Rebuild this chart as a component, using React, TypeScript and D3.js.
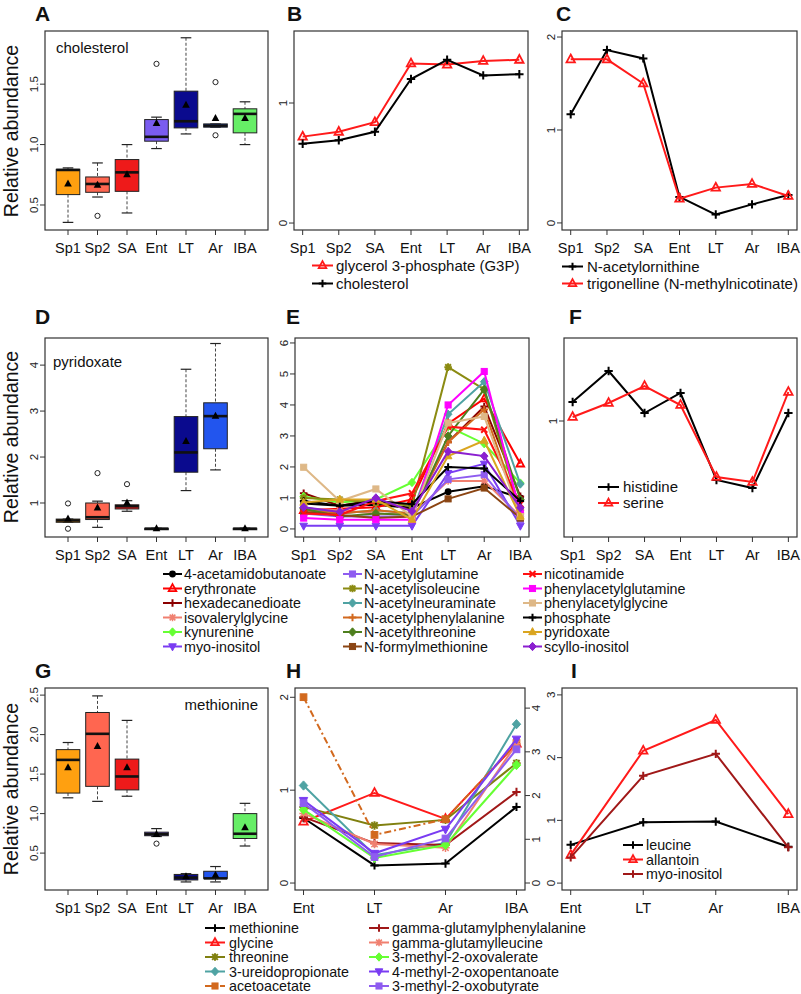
import React from "react";
import * as d3 from "d3";

const FONT = "'Liberation Sans', Arial, Helvetica, sans-serif";
const AX = "#333";

// ---------- categories ----------
const stages = ["Sp1", "Sp2", "SA", "Ent", "LT", "Ar", "IBA"];
const lateStages = ["Ent", "LT", "Ar", "IBA"];
const stageColors = ["#FFA010", "#FF6650", "#EE1A1A", "#7A5CF0", "#0A0A8E", "#2255EE", "#66EE66"];

// ---------- A: cholesterol box stats [low, q1, median, q3, high] ----------
const cholesterolBox = [
  [0.356, 0.586, 0.79, 0.795, 0.807],
  [0.566, 0.605, 0.674, 0.732, 0.848],
  [0.434, 0.613, 0.77, 0.876, 1.0],
  [0.967, 1.028, 1.064, 1.207, 1.227],
  [1.088, 1.138, 1.193, 1.442, 1.884],
  [1.144, 1.144, 1.157, 1.171, 1.171],
  [1.0, 1.097, 1.254, 1.296, 1.354],
];
const cholesterolMean = [0.674, 0.663, 0.75, 1.174, 1.326, 1.215, 1.215];
const cholesterolOutliers = [[2, 0.41], [4, 1.668], [6, 1.517], [6, 1.077]];

// ---------- D: pyridoxate ----------
const pyridoxateBox = [
  [0.58, 0.58, 0.62, 0.65, 0.65],
  [0.47, 0.64, 0.69, 1.0, 1.04],
  [0.82, 0.87, 0.93, 0.96, 1.05],
  [0.43, 0.43, 0.44, 0.45, 0.45],
  [1.27, 1.67, 2.1, 2.88, 3.91],
  [1.72, 2.18, 2.89, 3.18, 4.47],
  [0.43, 0.43, 0.44, 0.45, 0.45],
];
const pyridoxateMean = [0.65, 0.89, 1.0, 0.44, 2.34, 2.89, 0.44];
const pyridoxateOutliers = [[1, 0.99], [1, 0.44], [2, 1.65], [3, 1.41]];

// ---------- G: methionine ----------
const methionineBox = [
  [1.2, 1.26, 1.68, 1.81, 1.9],
  [1.155, 1.345, 2.01, 2.28, 2.49],
  [1.22, 1.3, 1.47, 1.69, 2.18],
  [0.71, 0.72, 0.74, 0.765, 0.81],
  [0.135, 0.16, 0.19, 0.23, 0.24],
  [0.135, 0.18, 0.18, 0.27, 0.33],
  [0.59, 0.685, 0.745, 1.0, 1.13],
];
const methionineMean = [1.58, 1.85, 1.58, 0.735, 0.2, 0.22, 0.82];
const methionineOutliers = [[4, 0.62]];

// ---------- B ----------
const g3pValues = [0.72, 0.76, 0.84, 1.33, 1.32, 1.35, 1.36];
const cholesterolLine = [0.66, 0.69, 0.76, 1.2, 1.36, 1.23, 1.24];

// ---------- C ----------
const acetylornithine = [1.17, 1.86, 1.77, 0.28, 0.09, 0.2, 0.3];
const trigonelline = [1.76, 1.76, 1.5, 0.26, 0.38, 0.42, 0.29];

// ---------- F ----------
const histidine = [1.095, 1.25, 1.04, 1.14, 0.705, 0.665, 1.04];
const serine = [1.02, 1.09, 1.175, 1.08, 0.72, 0.695, 1.145];

// ---------- E ----------
const eNames = [
  "4-acetamidobutanoate", "erythronate", "hexadecanedioate", "isovalerylglycine", "kynurenine", "myo-inositol",
  "N-acetylglutamine", "N-acetylisoleucine", "N-acetylneuraminate", "N-acetylphenylalanine", "N-acetylthreonine", "N-formylmethionine",
  "nicotinamide", "phenylacetylglutamine", "phenylacetylglycine", "phosphate", "pyridoxate", "scyllo-inositol",
];
const eColors = [
  "#000000", "#FF0000", "#8B0000", "#F08070", "#66FF33", "#7A3CF2",
  "#8E5CF0", "#8B8B12", "#4FA3A3", "#D2691E", "#4E7F1E", "#8B4513",
  "#FF1010", "#FF00FF", "#DEB887", "#000000", "#DAA520", "#8B1FD0",
];
const eShapes = [
  "circle", "tri", "plus", "asterisk", "diamond", "dtri",
  "square", "star", "diamond", "plus", "diamond", "square",
  "x", "square", "square", "plus", "ftri", "diamond",
];
const eValues = [
  [0.82, 0.75, 0.78, 0.68, 1.2, 1.38, 1.0],
  [0.6, 0.65, 0.7, 0.95, 3.4, 4.2, 2.1],
  [1.15, 0.75, 0.95, 0.6, 2.8, 3.95, 1.05],
  [0.65, 0.6, 0.5, 0.45, 1.55, 1.55, 0.4],
  [1.05, 0.85, 0.95, 1.5, 3.3, 2.75, 1.48],
  [0.1, 0.1, 0.1, 0.1, 1.8, 2.1, 0.1],
  [0.5, 0.4, 0.4, 0.4, 1.6, 1.75, 0.3],
  [1.0, 0.95, 0.85, 0.75, 5.22, 4.5, 0.6],
  [0.7, 0.5, 0.6, 0.5, 3.7, 4.75, 1.45],
  [0.6, 0.5, 0.6, 0.5, 2.8, 3.85, 0.5],
  [0.65, 0.4, 0.5, 0.45, 3.0, 4.5, 0.95],
  [0.55, 0.45, 0.35, 0.4, 0.97, 1.32, 0.35],
  [0.5, 0.45, 0.9, 1.15, 3.3, 3.2, 0.8],
  [0.35, 0.3, 0.3, 0.3, 4.0, 5.08, 0.5],
  [1.99, 0.9, 1.29, 0.4, 3.42, 3.63, 0.4],
  [0.9, 0.75, 0.9, 0.8, 2.0, 1.95, 0.9],
  [0.85, 0.95, 0.95, 0.3, 2.35, 2.85, 0.4],
  [0.7, 0.55, 1.0, 0.57, 2.5, 2.35, 0.68],
];

// ---------- H ----------
const hNames = [
  "methionine", "glycine", "threonine", "3-ureidopropionate", "acetoacetate",
  "gamma-glutamylphenylalanine", "gamma-glutamylleucine", "3-methyl-2-oxovalerate", "4-methyl-2-oxopentanoate", "3-methyl-2-oxobutyrate",
];
const hColors = ["#000000", "#FF1A1A", "#808010", "#4FA3A3", "#D2691E", "#A01818", "#F08070", "#66FF33", "#7A3CF2", "#8E5CF0"];
const hShapes = ["plus", "tri", "star", "diamond", "square", "plus", "asterisk", "diamond", "dtri", "square"];
const hValues = [
  [0.7, 0.19, 0.21, 0.82],
  [0.66, 0.97, 0.69, 1.5],
  [0.82, 0.62, 0.68, 1.29],
  [1.05, 0.3, 0.43, 1.71],
  [4.25, 1.1, 1.46, 3.2],
  [0.71, 0.43, 0.41, 0.98],
  [0.75, 0.42, 0.38, 1.5],
  [0.79, 0.27, 0.41, 1.27],
  [0.89, 0.32, 0.58, 1.55],
  [0.86, 0.28, 0.48, 1.44],
];
const hRightAxisSeries = [false, false, false, false, true, false, false, false, false, false];

// ---------- I ----------
const leucine = [0.61, 0.97, 0.98, 0.58];
const allantoin = [0.45, 2.11, 2.6, 1.1];
const myoInositolI = [0.41, 1.71, 2.06, 0.57];

// ================= drawing helpers =================
function Marker({ shape, x, y, color, s = 4 }: any) {
  const sw = 1.8;
  switch (shape) {
    case "circle":
      return <circle cx={x} cy={y} r={s * 0.9} fill={color} />;
    case "tri":
      return <path d={`M${x},${y - s * 1.15}L${x + s},${y + s * 0.7}L${x - s},${y + s * 0.7}Z`} fill="none" stroke={color} strokeWidth={sw} />;
    case "ftri":
      return <path d={`M${x},${y - s * 1.15}L${x + s},${y + s * 0.7}L${x - s},${y + s * 0.7}Z`} fill={color} stroke={color} strokeWidth={1} />;
    case "dtri":
      return <path d={`M${x},${y + s * 1.15}L${x + s},${y - s * 0.7}L${x - s},${y - s * 0.7}Z`} fill={color} stroke={color} strokeWidth={1} />;
    case "plus":
      return <path d={`M${x - s},${y}H${x + s}M${x},${y - s}V${y + s}`} stroke={color} strokeWidth={2} />;
    case "x":
      return <path d={`M${x - s * 0.8},${y - s * 0.8}L${x + s * 0.8},${y + s * 0.8}M${x - s * 0.8},${y + s * 0.8}L${x + s * 0.8},${y - s * 0.8}`} stroke={color} strokeWidth={2} />;
    case "asterisk":
    case "star": {
      const k = s * 0.75;
      return (
        <path
          d={`M${x - s},${y}H${x + s}M${x},${y - s}V${y + s}M${x - k},${y - k}L${x + k},${y + k}M${x - k},${y + k}L${x + k},${y - k}`}
          stroke={color}
          strokeWidth={shape === "star" ? 2 : 1.5}
        />
      );
    }
    case "diamond":
      return <path d={`M${x},${y - s * 1.1}L${x + s},${y}L${x},${y + s * 1.1}L${x - s},${y}Z`} fill={color} stroke={color} strokeWidth={1} />;
    case "square":
      return <rect x={x - s * 0.8} y={y - s * 0.8} width={s * 1.6} height={s * 1.6} fill={color} stroke={color} strokeWidth={1} />;
    default:
      return null;
  }
}

function Frame({ x0, x1, y0, y1 }: any) {
  return <rect x={x0} y={y0} width={x1 - x0} height={y1 - y0} fill="none" stroke={AX} strokeWidth={1.2} />;
}

function XAxis({ xs, cats, yb }: any) {
  return (
    <g>
      {cats.map((c: string, i: number) => (
        <g key={c}>
          <line x1={xs(i + 1)} x2={xs(i + 1)} y1={yb} y2={yb + 5} stroke={AX} />
          <text x={xs(i + 1)} y={yb + 23} textAnchor="middle" fontSize={14.5} fill="#111">
            {c}
          </text>
        </g>
      ))}
    </g>
  );
}

function YAxis({ ys, ticks, x, fmt, side = "left" }: any) {
  const dir = side === "left" ? -1 : 1;
  return (
    <g>
      {ticks.map((t: number) => (
        <g key={t}>
          <line x1={x} x2={x + dir * 5} y1={ys(t)} y2={ys(t)} stroke={AX} />
          <text
            transform={`translate(${side === "left" ? x - 7 : x + 15},${ys(t)}) rotate(-90)`}
            textAnchor="middle"
            fontSize={11.5}
            fill="#222"
          >
            {fmt(t)}
          </text>
        </g>
      ))}
    </g>
  );
}

function PanelLetter({ x, y, t }: any) {
  return (
    <text x={x} y={y} fontSize={21} fontWeight="bold" fill="#111">
      {t}
    </text>
  );
}

function YTitle({ x, y }: any) {
  return (
    <text transform={`translate(${x},${y}) rotate(-90)`} textAnchor="middle" fontSize={19.5} fill="#111">
      Relative abundance
    </text>
  );
}

function BoxPanel({ x0, x1, y0, y1, domain, ticks, fmt, boxes, means, outliers, label, lx, ly, anchor = "start" }: any) {
  const xs = d3.scaleLinear().domain([0.5 - 0.28, 7.5 + 0.28]).range([x0, x1]);
  const ys = d3.scaleLinear().domain(domain).range([y1, y0]);
  const bw = (xs(2) - xs(1)) * 0.8;
  const cw = bw * 0.45;
  return (
    <g>
      {boxes.map((b: number[], i: number) => {
        const cx = xs(i + 1);
        const [lo, q1, md, q3, hi] = b;
        return (
          <g key={i}>
            <line x1={cx} x2={cx} y1={ys(hi)} y2={ys(q3)} stroke="#444" strokeDasharray="3,2" />
            <line x1={cx} x2={cx} y1={ys(q1)} y2={ys(lo)} stroke="#444" strokeDasharray="3,2" />
            <line x1={cx - cw / 2} x2={cx + cw / 2} y1={ys(hi)} y2={ys(hi)} stroke="#222" strokeWidth={1.2} />
            <line x1={cx - cw / 2} x2={cx + cw / 2} y1={ys(lo)} y2={ys(lo)} stroke="#222" strokeWidth={1.2} />
            <rect
              x={cx - bw / 2}
              y={ys(q3)}
              width={bw}
              height={Math.max(ys(q1) - ys(q3), 1.5)}
              fill={stageColors[i]}
              stroke="#222"
              strokeWidth={1}
            />
            <line x1={cx - bw / 2} x2={cx + bw / 2} y1={ys(md)} y2={ys(md)} stroke="#111" strokeWidth={2.6} />
            <path
              d={`M${cx},${ys(means[i]) - 4.5}L${cx + 3.8},${ys(means[i]) + 2.5}L${cx - 3.8},${ys(means[i]) + 2.5}Z`}
              fill="#000"
            />
          </g>
        );
      })}
      {outliers.map((o: number[], k: number) => (
        <circle key={k} cx={xs(o[0])} cy={ys(o[1])} r={2.6} fill="none" stroke="#222" strokeWidth={1} />
      ))}
      <Frame x0={x0} x1={x1} y0={y0} y1={y1} />
      <XAxis xs={xs} cats={stages} yb={y1} />
      <YAxis ys={ys} ticks={ticks} x={x0} fmt={fmt} />
      <text x={lx} y={ly} fontSize={15} textAnchor={anchor} fill="#111">
        {label}
      </text>
    </g>
  );
}

function LinePanel({ x0, x1, y0, y1, cats, domain, ticks, series, ms = 4.2, rightDomain, rightTicks }: any) {
  const n = cats.length;
  const pad = (n - 1) * 0.04;
  const xs = d3.scaleLinear().domain([1 - pad, n + pad]).range([x0, x1]);
  const ys = d3.scaleLinear().domain(domain).range([y1, y0]);
  const ysR = rightDomain ? d3.scaleLinear().domain(rightDomain).range([y1, y0]) : null;
  const line = (sc: any) =>
    d3
      .line<number>()
      .x((_, i) => xs(i + 1))
      .y((v) => sc(v));
  return (
    <g>
      {series.map((s: any, k: number) => {
        const sc = s.right && ysR ? ysR : ys;
        return (
          <g key={k}>
            <path d={line(sc)(s.values) || ""} fill="none" stroke={s.color} strokeWidth={2} strokeDasharray={s.dash || undefined} />
            {s.values.map((v: number, i: number) => (
              <Marker key={i} shape={s.shape} x={xs(i + 1)} y={sc(v)} color={s.color} s={ms} />
            ))}
          </g>
        );
      })}
      <Frame x0={x0} x1={x1} y0={y0} y1={y1} />
      <XAxis xs={xs} cats={cats} yb={y1} />
      <YAxis ys={ys} ticks={ticks} x={x0} fmt={(t: number) => String(t)} />
      {ysR && <YAxis ys={ysR} ticks={rightTicks} x={x1} fmt={(t: number) => String(t)} side="right" />}
    </g>
  );
}

function Legend({ items, x, y, dy, len = 20, gap = 3, fs = 15, ms = 3.8 }: any) {
  return (
    <g>
      {items.map((it: any, i: number) => {
        const yy = y + i * dy;
        return (
          <g key={i}>
            <line x1={x} x2={x + len} y1={yy} y2={yy} stroke={it.color} strokeWidth={2} strokeDasharray={it.dash || undefined} />
            <Marker shape={it.shape} x={x + len / 2} y={yy} color={it.color} s={ms} />
            <text x={x + len + gap} y={yy} dy="0.35em" fontSize={fs} fill="#111">
              {it.name}
            </text>
          </g>
        );
      })}
    </g>
  );
}

export default function App() {
  const f1 = (t: number) => t.toFixed(1);

  const bSeries = [
    { name: "glycerol 3-phosphate (G3P)", values: g3pValues, color: "#FF1A1A", shape: "tri" },
    { name: "cholesterol", values: cholesterolLine, color: "#000000", shape: "plus" },
  ];
  const cSeries = [
    { name: "N-acetylornithine", values: acetylornithine, color: "#000000", shape: "plus" },
    { name: "trigonelline (N-methylnicotinate)", values: trigonelline, color: "#FF1A1A", shape: "tri" },
  ];
  const fSeries = [
    { name: "histidine", values: histidine, color: "#000000", shape: "plus" },
    { name: "serine", values: serine, color: "#FF1A1A", shape: "tri" },
  ];
  const eSeries = eNames.map((name, i) => ({ name, values: eValues[i], color: eColors[i], shape: eShapes[i] }));
  const hSeries = hNames.map((name, i) => ({
    name,
    values: hValues[i],
    color: hColors[i],
    shape: hShapes[i],
    right: hRightAxisSeries[i],
    dash: hRightAxisSeries[i] ? "7,3,2,3" : undefined,
  }));
  const iSeries = [
    { name: "leucine", values: leucine, color: "#000000", shape: "plus" },
    { name: "allantoin", values: allantoin, color: "#FF1A1A", shape: "tri" },
    { name: "myo-inositol", values: myoInositolI, color: "#A01818", shape: "plus" },
  ];

  return (
    <svg
      width={801}
      height={994}
      viewBox="0 0 801 994"
      style={{ position: "absolute", left: 0, top: 0, background: "#fff", fontFamily: FONT }}
    >
      <rect x={0} y={0} width={801} height={994} fill="#fff" />

      {/* Row 1 */}
      <PanelLetter x={35} y={21} t="A" />
      <PanelLetter x={287} y={21} t="B" />
      <PanelLetter x={556} y={21} t="C" />
      <YTitle x={17.5} y={131} />
      <BoxPanel
        x0={45} x1={268} y0={31} y1={230}
        domain={[0.293, 1.94]} ticks={[0.5, 1.0, 1.5]} fmt={f1}
        boxes={cholesterolBox} means={cholesterolMean} outliers={cholesterolOutliers}
        label="cholesterol" lx={56} ly={53}
      />
      <LinePanel x0={294} x1={528} y0={31} y1={230} cats={stages} domain={[-0.058, 1.6]} ticks={[0, 1]} series={bSeries} />
      <Legend items={bSeries} x={312} y={265.5} dy={18} len={21} gap={3} />
      <LinePanel x0={562} x1={797} y0={31} y1={230} cats={stages} domain={[-0.076, 2.065]} ticks={[0, 1, 2]} series={cSeries} />
      <Legend items={cSeries} x={562} y={266.5} dy={17} len={21} gap={4} />

      {/* Row 2 */}
      <PanelLetter x={35} y={324} t="D" />
      <PanelLetter x={286} y={324} t="E" />
      <PanelLetter x={569} y={324} t="F" />
      <YTitle x={17.5} y={437} />
      <BoxPanel
        x0={45} x1={268} y0={338} y1={537}
        domain={[0.26, 4.59]} ticks={[1, 2, 3, 4]} fmt={(t: number) => String(t)}
        boxes={pyridoxateBox} means={pyridoxateMean} outliers={pyridoxateOutliers}
        label="pyridoxate" lx={53} ly={367}
      />
      <LinePanel x0={295} x1={529} y0={338} y1={537} cats={stages} domain={[-0.26, 6.16]} ticks={[0, 1, 2, 3, 4, 5, 6]} series={eSeries} ms={3.8} />
      <LinePanel x0={564} x1={797} y0={338} y1={537} cats={stages} domain={[0.42, 1.415]} ticks={[1]} series={fSeries} />
      <Legend items={fSeries} x={598} y={487} dy={16} len={21} gap={4} />

      <Legend items={eSeries.slice(0, 6)} x={163} y={574} dy={14.5} len={19} gap={2} fs={14.3} />
      <Legend items={eSeries.slice(6, 12)} x={343} y={574} dy={14.5} len={19} gap={2} fs={14.3} />
      <Legend items={eSeries.slice(12, 18)} x={523} y={574} dy={14.5} len={19} gap={2} fs={14.3} />

      {/* Row 3 */}
      <PanelLetter x={35} y={678} t="G" />
      <PanelLetter x={286} y={678} t="H" />
      <PanelLetter x={571} y={678} t="I" />
      <YTitle x={17.5} y={789} />
      <BoxPanel
        x0={45} x1={268} y0={688} y1={890}
        domain={[0.033, 2.59]} ticks={[0.5, 1.0, 1.5, 2.0, 2.5]} fmt={f1}
        boxes={methionineBox} means={methionineMean} outliers={methionineOutliers}
        label="methionine" lx={258} ly={710} anchor="end"
      />
      <LinePanel
        x0={295} x1={525} y0={688} y1={890} cats={lateStages}
        domain={[-0.075, 2.1]} ticks={[0, 1, 2]} series={hSeries}
        rightDomain={[-0.16, 4.46]} rightTicks={[0, 1, 2, 3, 4]}
      />
      <LinePanel x0={562} x1={797} y0={688} y1={890} cats={lateStages} domain={[-0.11, 3.11]} ticks={[0, 1, 2, 3]} series={iSeries} />
      <Legend items={iSeries} x={623} y={845} dy={14.5} len={20} gap={3} fs={14.3} />

      <Legend items={hSeries.slice(0, 5)} x={205} y={928} dy={14.5} len={20} gap={4} fs={14.3} />
      <Legend items={hSeries.slice(5, 10)} x={369} y={928} dy={14.5} len={20} gap={3} fs={14.3} />
    </svg>
  );
}
